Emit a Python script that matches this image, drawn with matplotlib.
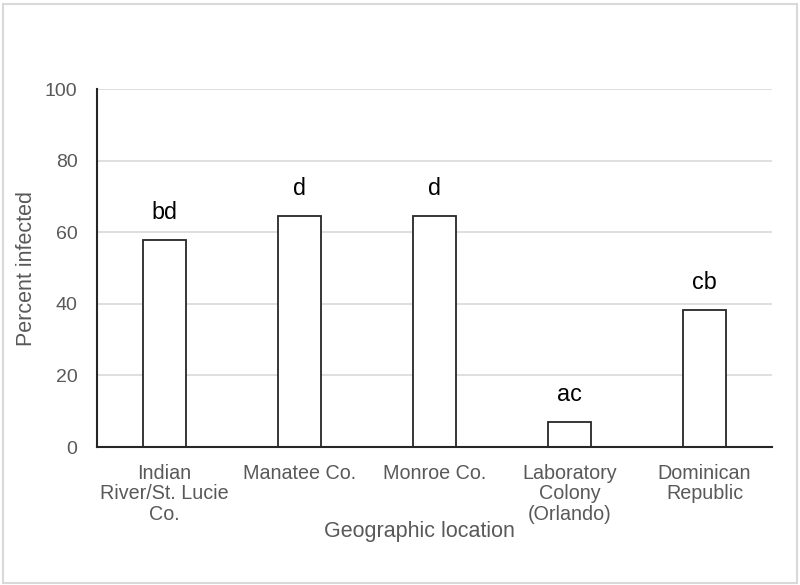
import matplotlib
matplotlib.use("Agg")
import matplotlib.pyplot as plt
from matplotlib.patches import Rectangle

plt.rcParams['font.family'] = ['Liberation Sans', 'DejaVu Sans']

categories = ["Indian\nRiver/St. Lucie\nCo.", "Manatee Co.", "Monroe Co.",
              "Laboratory\nColony\n(Orlando)", "Dominican\nRepublic"]
values = [57.8, 64.5, 64.5, 7.1, 38.4]
letters = ["bd", "d", "d", "ac", "cb"]
yticks = [0, 20, 40, 60, 80, 100]

fig = plt.figure(figsize=(8, 5.85), dpi=100)
ax = fig.add_axes([97/800, 1 - 447/585, 675/800, 358/585])

x = list(range(len(categories)))
bars = ax.bar(x, values, width=0.315, color='white', edgecolor='#262626', linewidth=1.3, zorder=3)
ax.set_xlim(-0.5, len(categories) - 0.5)
ax.set_ylim(0, 100)
ax.set_yticks(yticks)
ax.yaxis.grid(True, color='#d9d9d9', linewidth=1.2, zorder=0)
ax.set_axisbelow(True)
ax.set_xticks(x)
ax.set_xticklabels(categories, fontsize=14.2, color='#595959', linespacing=1.1)
ax.tick_params(axis='both', length=0)
ax.tick_params(axis='x', pad=12)
ax.tick_params(axis='y', labelsize=14, labelcolor='#595959', pad=14)
for s in ['top', 'right']:
    ax.spines[s].set_visible(False)
for s in ['left', 'bottom']:
    ax.spines[s].set_color('#262626')
    ax.spines[s].set_linewidth(1.5)
    ax.spines[s].set_zorder(4)

for b, lab in zip(bars, letters):
    ax.annotate(lab, (b.get_x() + b.get_width() / 2, b.get_height()),
                xytext=(0, 15), textcoords='offset points',
                ha='center', va='baseline', fontsize=16.8, color='black')

ax.set_xlabel("Geographic location", fontsize=15.5, color='#595959')
ax.xaxis.set_label_coords(0.478, -0.2366)
ax.xaxis.label.set_va('center')
ax.set_ylabel("Percent infected", fontsize=15.5, color='#595959')
ax.yaxis.set_label_coords(-0.104, 0.5)
ax.yaxis.label.set_va('center')

fig.patches.append(Rectangle((0.004, 0.004), 0.992, 0.99, transform=fig.transFigure,
                             fill=False, edgecolor='#d9d9d9', linewidth=1.5))

fig.savefig("out.png", dpi=100)
